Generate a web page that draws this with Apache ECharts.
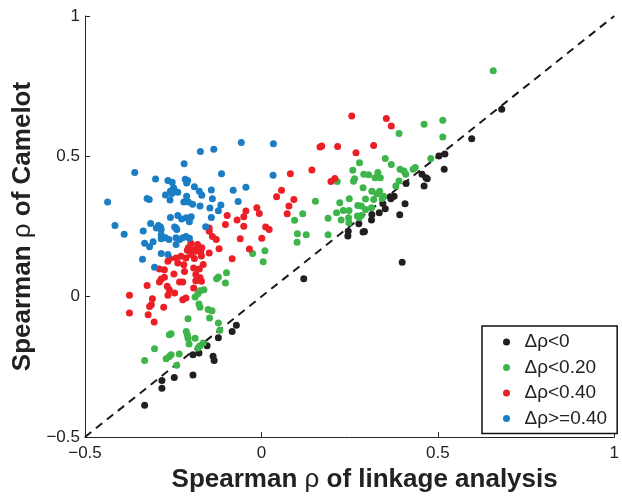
<!DOCTYPE html>
<html>
<head>
<meta charset="utf-8">
<script src="https://cdn.jsdelivr.net/npm/echarts@6/dist/echarts.min.js"></script>
<style>
  html, body { margin: 0; padding: 0; background: #fff; }
  #chart { width: 622px; height: 499px; }
</style>
</head>
<body>
<div id="chart"></div>
<script>
// Spearman correlations: linkage analysis (x) vs Camelot (y), grouped by Δρ = y − x
const seriesNames = ['Δρ<0', 'Δρ<0.20', 'Δρ<0.40', 'Δρ>=0.40'];
const seriesColors = ['#231f20', '#3db54a', '#ec1f26', '#1b7dc3'];

const xTicks = [-0.5, 0, 0.5, 1];
const yTicks = [-0.5, 0, 0.5, 1];

const diagonal = [[-0.5, -0.5], [1, 1]];

const negative = [
  [-0.331,-0.387],[-0.282,-0.326],[-0.282,-0.299],[-0.247,-0.288],[-0.194,-0.279],
  [-0.194,-0.207],[-0.177,-0.201],[-0.154,-0.175],[-0.137,-0.212],[-0.134,-0.227],
  [-0.122,-0.146],[-0.083,-0.124],[-0.071,-0.102],[0.120,0.064],[0.245,0.216],
  [0.246,0.233],[0.276,0.260],[0.288,0.230],[0.292,0.232],[0.312,0.273],
  [0.313,0.293],[0.334,0.299],[0.351,0.313],[0.344,0.332],[0.365,0.356],
  [0.367,0.349],[0.376,0.358],[0.392,0.292],[0.407,0.331],[0.410,0.403],
  [0.399,0.123],[0.455,0.436],[0.466,0.424],[0.470,0.420],[0.461,0.394],
  [0.503,0.501],[0.520,0.508],[0.518,0.454],[0.596,0.563],[0.681,0.668]
];

const under020 = [
  [0.657,0.805],[0.514,0.629],[0.514,0.569],[0.461,0.614],[0.390,0.581],
  [0.480,0.492],[0.351,0.492],[0.368,0.471],[0.278,0.477],[0.259,0.450],
  [0.290,0.436],[0.304,0.434],[0.330,0.442],[0.337,0.424],[0.393,0.454],
  [0.404,0.448],[0.409,0.436],[0.430,0.454],[0.436,0.460],[0.264,0.420],
  [0.261,0.411],[0.322,0.424],[0.390,0.412],[0.381,0.394],[0.288,0.388],
  [0.215,0.410],[0.313,0.376],[0.335,0.376],[0.327,0.367],[0.346,0.358],
  [0.342,0.350],[0.318,0.346],[0.295,0.348],[0.249,0.349],[0.222,0.335],
  [0.153,0.340],[0.273,0.325],[0.283,0.323],[0.312,0.317],[0.295,0.311],
  [0.232,0.307],[0.248,0.307],[0.213,0.299],[0.117,0.295],[0.094,0.272],
  [0.189,0.279],[0.226,0.273],[0.247,0.281],[0.248,0.263],[0.277,0.281],
  [0.272,0.287],[0.283,0.289],[0.102,0.224],[0.127,0.221],[0.101,0.194],
  [0.189,0.221],[-0.025,0.154],[0.010,0.164],[0.005,0.124],
  [-0.122,0.070],[-0.127,0.064],[-0.099,0.085],[-0.102,0.049],[-0.163,0.025],
  [-0.174,0.021],[-0.180,0.010],[-0.188,-0.001],[-0.177,-0.026],[-0.174,-0.038],
  [-0.151,-0.046],[-0.140,-0.050],[-0.147,-0.076],[-0.122,-0.094],[-0.118,-0.120],
  [-0.208,-0.079],[-0.261,-0.136],[-0.256,-0.132],[-0.213,-0.124],[-0.210,-0.136],
  [-0.208,-0.148],[-0.188,-0.148],[-0.205,-0.169],[-0.180,-0.183],[-0.174,-0.175],
  [-0.165,-0.165],[-0.303,-0.186],[-0.233,-0.204],[-0.256,-0.207],[-0.261,-0.213],
  [-0.270,-0.221],[-0.240,-0.244],[-0.331,-0.227]
];

const under040 = [
  [0.256,0.644],[0.354,0.635],[0.368,0.608],[0.166,0.533],[0.171,0.537],
  [0.216,0.535],[0.318,0.539],[0.268,0.513],[0.143,0.451],[0.082,0.438],
  [0.197,0.410],[0.208,0.421],[0.057,0.379],[0.043,0.356],[0.092,0.346],
  [0.078,0.323],[0.073,0.295],
  [-0.013,0.317],[-0.006,0.296],[-0.044,0.305],[-0.050,0.285],[-0.069,0.273],
  [-0.097,0.289],[-0.102,0.257],[-0.050,0.251],[0.012,0.248],[0.022,0.239],
  [0.001,0.208],[-0.060,0.206],[-0.034,0.170],[-0.083,0.135],[-0.120,0.171],
  [-0.148,0.245],[-0.148,0.233],[-0.139,0.214],[-0.128,0.204],[-0.148,0.156],
  [-0.169,0.174],[-0.181,0.186],[-0.195,0.168],[-0.207,0.174],[-0.186,0.162],
  [-0.200,0.150],[-0.172,0.160],[-0.228,0.144],[-0.214,0.138],[-0.242,0.138],
  [-0.237,0.120],[-0.220,0.114],[-0.190,0.136],[-0.265,0.126],[-0.260,0.136],
  [-0.275,0.096],[-0.289,0.099],[-0.248,0.081],[-0.218,0.090],[-0.192,0.102],
  [-0.176,0.099],[-0.186,0.079],[-0.174,0.067],[-0.170,0.055],[-0.186,0.057],
  [-0.284,0.063],[-0.289,0.052],[-0.275,0.069],[-0.232,0.052],[-0.223,0.052],
  [-0.267,0.037],[-0.261,0.025],[-0.265,0.005],[-0.246,0.013],[-0.192,0.031],
  [-0.324,0.040],[-0.374,0.005],[-0.374,-0.058],[-0.309,-0.007],[-0.312,-0.029],
  [-0.317,-0.035],[-0.321,-0.064],[-0.277,-0.038],[-0.304,-0.090],[-0.223,-0.011],
  [-0.214,-0.005],[-0.200,0.190],[-0.180,0.178],[-0.210,0.165],[-0.170,0.145],
  [-0.165,0.115]
];

const atLeast040 = [
  [-0.057,0.549],[0.034,0.545],[-0.135,0.525],[-0.173,0.517],[-0.219,0.474],
  [-0.359,0.442],[-0.113,0.438],[0.033,0.433],[-0.300,0.419],[-0.265,0.414],
  [-0.253,0.408],[-0.216,0.418],[-0.209,0.414],[-0.212,0.405],[-0.249,0.388],
  [-0.258,0.376],[-0.244,0.376],[-0.237,0.372],[-0.254,0.368],[-0.272,0.362],
  [-0.259,0.344],[-0.190,0.392],[-0.176,0.376],[-0.169,0.361],[-0.142,0.380],
  [-0.080,0.379],[-0.044,0.390],[-0.436,0.337],[-0.324,0.350],[-0.318,0.346],
  [-0.212,0.358],[-0.220,0.337],[-0.207,0.337],[-0.195,0.329],[-0.174,0.323],
  [-0.139,0.349],[-0.146,0.316],[-0.122,0.306],[-0.115,0.327],[-0.066,0.339],
  [-0.142,0.282],[-0.415,0.254],[-0.389,0.222],[-0.335,0.234],[-0.314,0.261],
  [-0.292,0.254],[-0.286,0.248],[-0.284,0.221],[-0.258,0.282],[-0.237,0.289],
  [-0.226,0.277],[-0.213,0.281],[-0.199,0.285],[-0.204,0.267],[-0.246,0.248],
  [-0.240,0.239],[-0.158,0.249],[-0.331,0.190],[-0.307,0.196],[-0.317,0.178],
  [-0.284,0.206],[-0.272,0.210],[-0.262,0.204],[-0.242,0.210],[-0.232,0.204],
  [-0.223,0.210],[-0.214,0.214],[-0.204,0.208],[-0.242,0.186],[-0.284,0.154],
  [-0.265,0.150],[-0.337,0.133],[-0.303,0.105],[-0.298,0.245],[-0.284,0.239],
  [-0.242,0.245]
];

const groups = [negative, under020, under040, atLeast040];

const FONT = '"Liberation Sans", Arial, Helvetica, sans-serif';
const fmt = v => (v < 0 ? '\u2212' + String(-v) : String(v));

const axisCommon = {
  type: 'value',
  min: -0.5,
  max: 1,
  interval: 0.5,
  splitLine: { show: false },
  axisLine: { show: true, onZero: false, lineStyle: { color: '#262626', width: 1 } },
  axisTick: { show: true, inside: true, length: 5, lineStyle: { color: '#262626' } },
  axisLabel: { fontFamily: FONT, fontSize: 17, color: '#222', formatter: fmt },
  nameLocation: 'middle',
  nameTextStyle: {
    rich: {
      b: { fontFamily: FONT, fontSize: 26, fontWeight: 'bold', color: '#222' },
      r: { fontFamily: FONT, fontSize: 26, fontWeight: 'normal', color: '#222' }
    }
  }
};

const chart = echarts.init(document.getElementById('chart'), null, { renderer: 'canvas' });

chart.setOption({
  animation: false,
  backgroundColor: '#fff',
  grid: { left: 85, right: 2, top: 16, bottom: 62, containLabel: false },
  xAxis: Object.assign({}, axisCommon, {
    name: '{b|Spearman }{r|ρ}{b| of linkage analysis}',
    nameGap: 26,
    nameTextStyle: Object.assign({}, axisCommon.nameTextStyle, { padding: [0, 0, 0, 30] }),
    axisLabel: Object.assign({}, axisCommon.axisLabel, { margin: 8 })
  }),
  yAxis: Object.assign({}, axisCommon, {
    name: '{b|Spearman }{r|ρ}{b| of Camelot}',
    nameGap: 41,
    axisLabel: Object.assign({}, axisCommon.axisLabel, { margin: 5 })
  }),
  legend: {
    data: seriesNames,
    orient: 'vertical',
    left: 482,
    top: 326,
    padding: [6, 10, 5, 21],
    itemGap: 5.5,
    itemWidth: 26,
    itemHeight: 7,
    icon: 'circle',
    borderColor: '#111',
    borderWidth: 1.5,
    backgroundColor: '#fff',
    selectedMode: false,
    textStyle: { fontFamily: FONT, fontSize: 19, color: '#222', lineHeight: 20 }
  },
  series: [
    {
      type: 'line',
      data: diagonal,
      symbol: 'none',
      silent: true,
      z: 1,
      lineStyle: { color: '#1a1a1a', width: 2, type: [8, 6] }
    }
  ].concat(groups.map((pts, i) => ({
    name: seriesNames[i],
    type: 'scatter',
    data: pts,
    symbol: 'circle',
    symbolSize: 7,
    z: 2 + i,
    itemStyle: { color: seriesColors[i], opacity: 1 },
    emphasis: { disabled: true }
  })))
});
</script>
</body>
</html>
